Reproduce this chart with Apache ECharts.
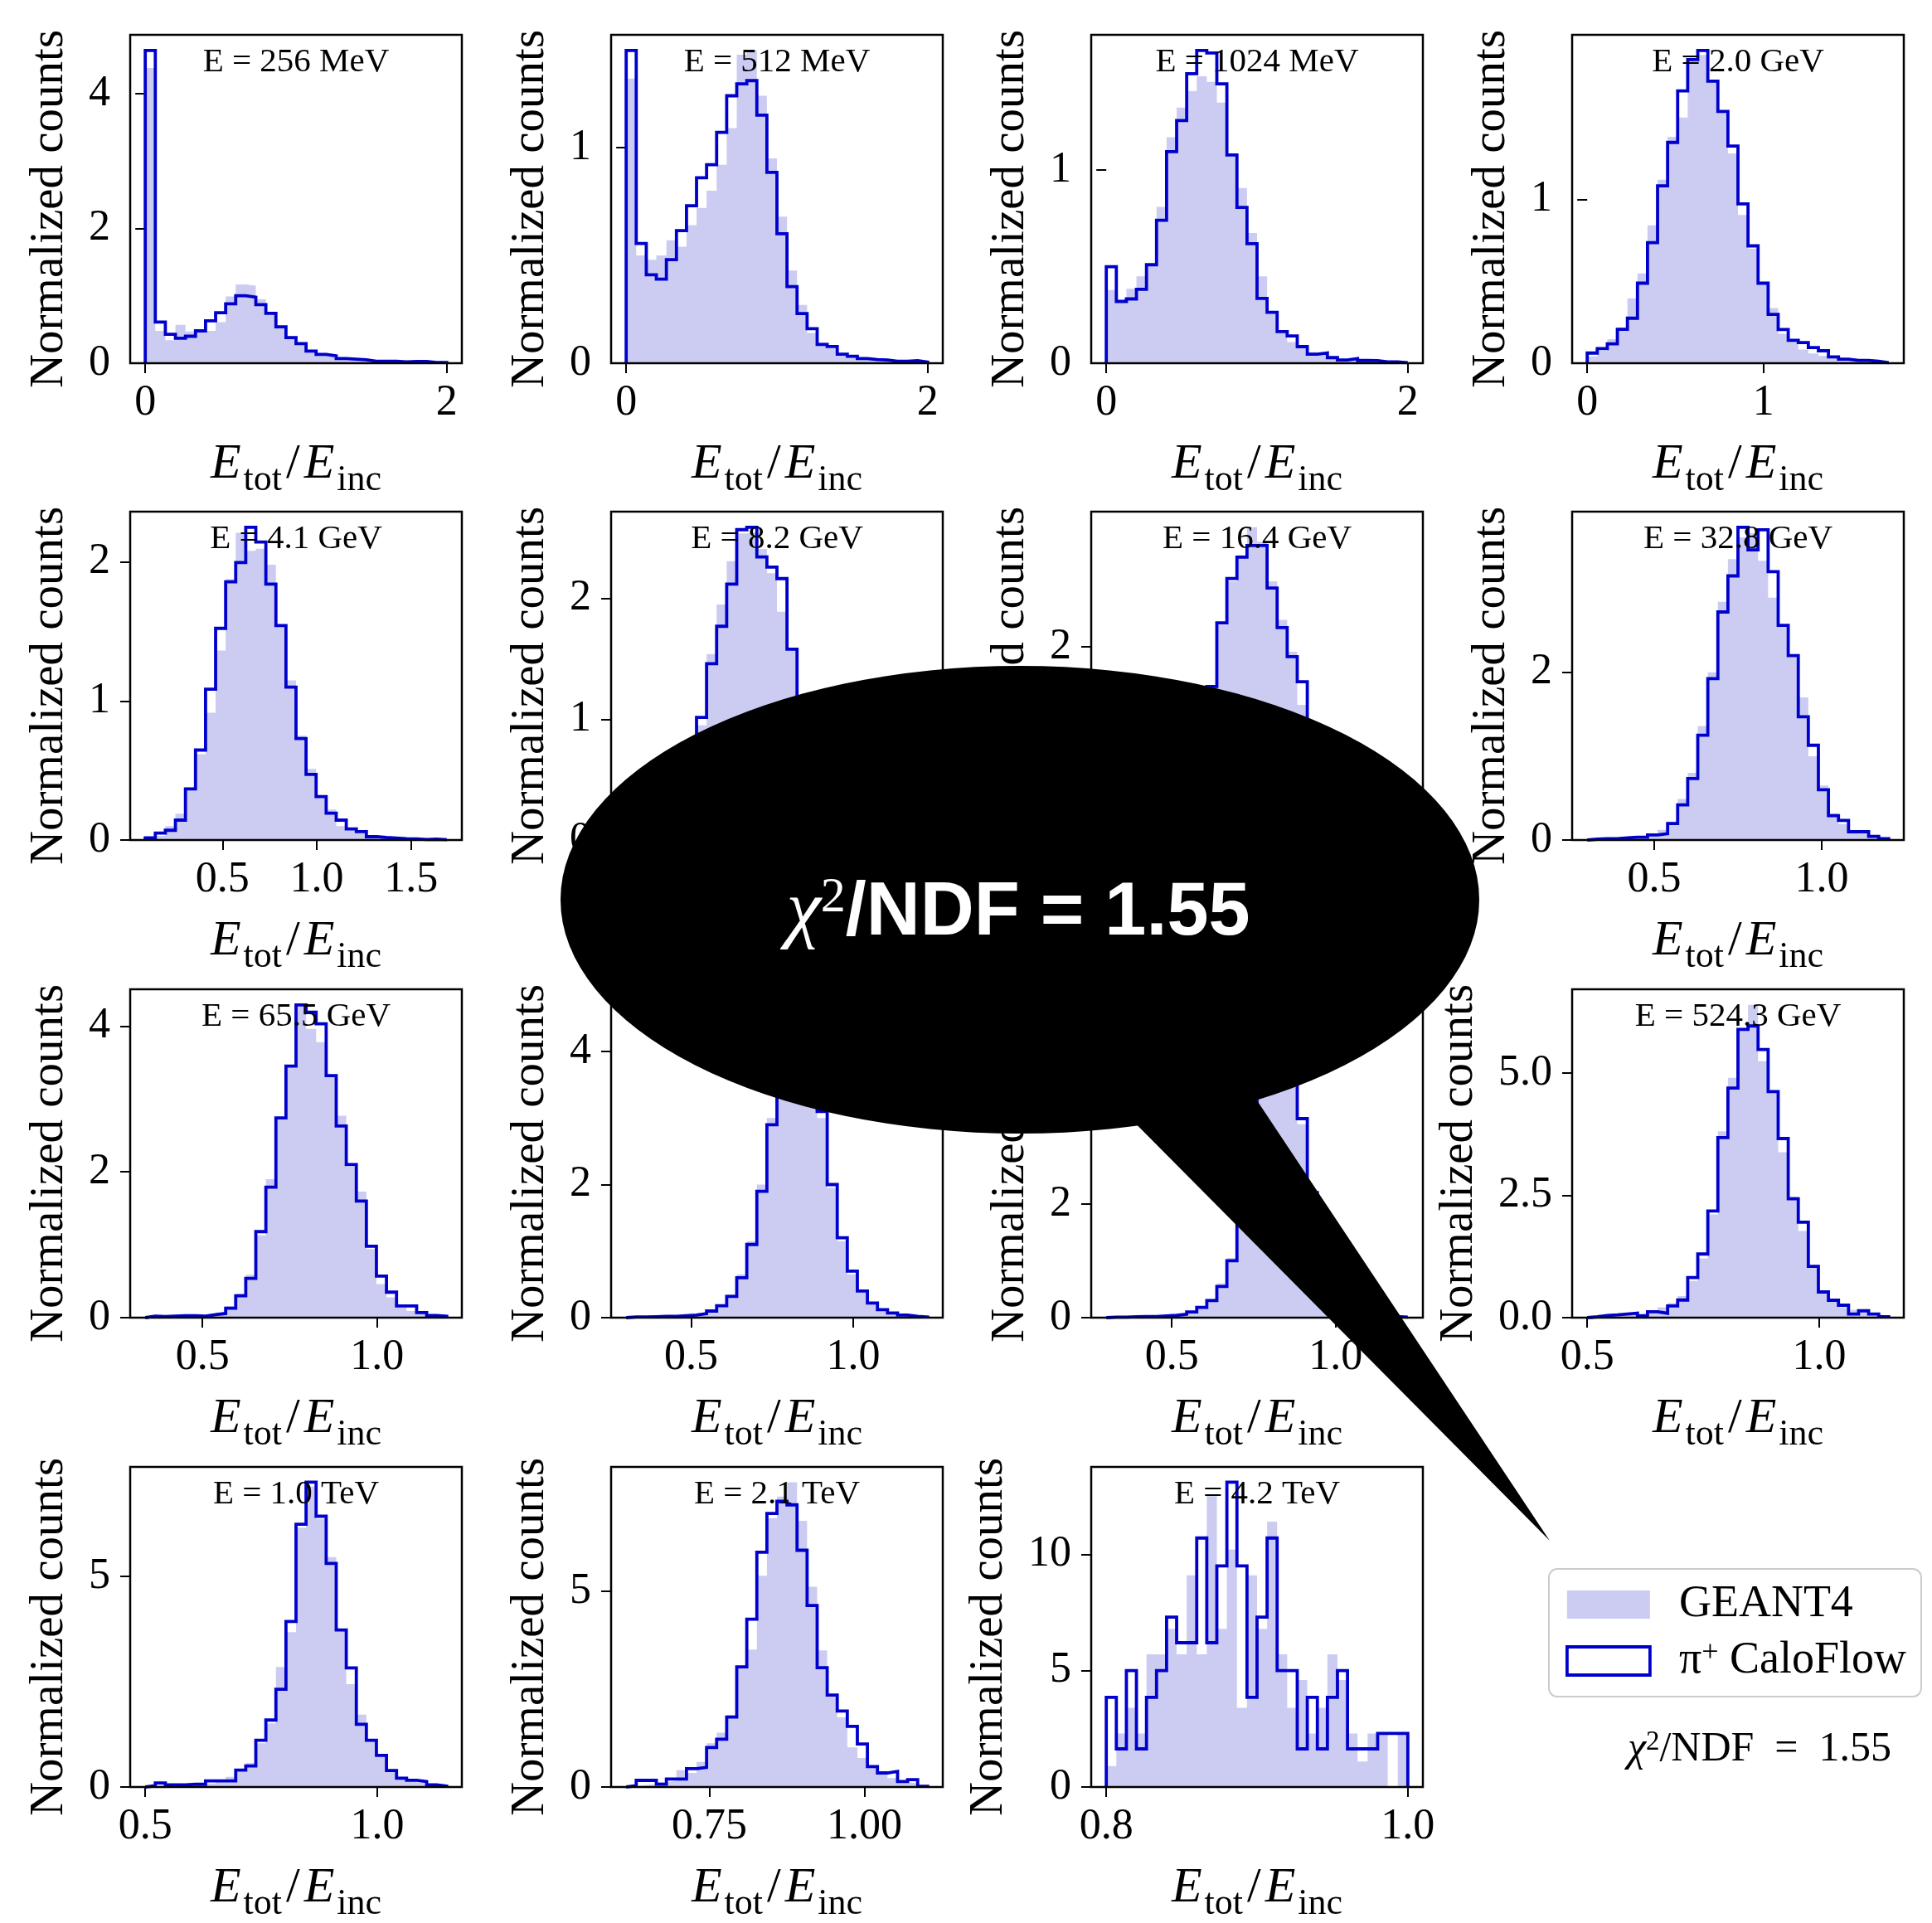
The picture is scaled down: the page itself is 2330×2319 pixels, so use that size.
<!DOCTYPE html>
<html>
<head>
<meta charset="utf-8">
<script src="https://cdn.jsdelivr.net/npm/echarts@6/dist/echarts.min.js"></script>
<style>
  html, body { margin: 0; padding: 0; background: #fff; }
  #chart { width: 2330px; height: 2319px; }
</style>
</head>
<body>
<div id="chart"></div>
<script>
// ---- data: one panel per incident energy, 30 bins each ----
const titles = ['E = 256 MeV', 'E = 512 MeV', 'E = 1024 MeV', 'E = 2.0 GeV',
  'E = 4.1 GeV', 'E = 8.2 GeV', 'E = 16.4 GeV', 'E = 32.8 GeV',
  'E = 65.5 GeV', 'E = 131.1 GeV', 'E = 262.1 GeV', 'E = 524.3 GeV',
  'E = 1.0 TeV', 'E = 2.1 TeV', 'E = 4.2 TeV'];

// histogram range [low edge, high edge] of E_tot/E_inc per panel
const binRanges = [[0, 2.0], [0, 2.0], [0, 2.0], [0, 1.71],
  [0.09, 1.69], [0.12, 1.62], [0.3, 1.2], [0.3, 1.2],
  [0.336, 1.2], [0.3, 1.23], [0.3, 1.22], [0.5, 1.15],
  [0.5, 1.15], [0.616, 1.102], [0.8, 1.0]];

const xTickValues = [[0, 2], [0, 2], [0, 2], [0, 1], [0.5, 1.0, 1.5], [0.5, 1.0, 1.5],
  [0.5, 1.0], [0.5, 1.0], [0.5, 1.0], [0.5, 1.0], [0.5, 1.0], [0.5, 1.0],
  [0.5, 1.0], [0.75, 1.0], [0.8, 1.0]];
const xTickLabels = [['0', '2'], ['0', '2'], ['0', '2'], ['0', '1'], ['0.5', '1.0', '1.5'], ['0.5', '1.0', '1.5'],
  ['0.5', '1.0'], ['0.5', '1.0'], ['0.5', '1.0'], ['0.5', '1.0'], ['0.5', '1.0'], ['0.5', '1.0'],
  ['0.5', '1.0'], ['0.75', '1.00'], ['0.8', '1.0']];
const yTickValues = [[0, 2, 4], [0, 1], [0, 1], [0, 1], [0, 1, 2], [0, 1, 2],
  [0, 2], [0, 2], [0, 2, 4], [0, 2, 4], [0, 2, 4], [0, 2.5, 5],
  [0, 5], [0, 5], [0, 5, 10]];
const yTickLabels = [['0', '2', '4'], ['0', '1'], ['0', '1'], ['0', '1'], ['0', '1', '2'], ['0', '1', '2'],
  ['0', '2'], ['0', '2'], ['0', '2', '4'], ['0', '2', '4'], ['0', '2', '4'], ['0.0', '2.5', '5.0'],
  ['0', '5'], ['0', '5'], ['0', '5', '10']];

// GEANT4 reference (filled) and CaloFlow (step) normalized counts
const g4_256MeV = [4.38, 0.48, 0.34, 0.57, 0.47, 0.45, 0.48, 0.61, 0.99, 1.17, 1.15, 0.95, 0.72, 0.55, 0.37, 0.27, 0.16, 0.12, 0.10, 0.07, 0.05, 0.045, 0.04, 0.03, 0.03, 0.02, 0.02, 0.015, 0.01, 0.01];
const cf_256MeV = [4.64, 0.61, 0.43, 0.37, 0.40, 0.48, 0.63, 0.75, 0.88, 1.00, 0.98, 0.87, 0.74, 0.54, 0.38, 0.29, 0.18, 0.13, 0.11, 0.07, 0.06, 0.05, 0.03, 0.03, 0.03, 0.02, 0.025, 0.025, 0.01, 0.01];

const g4_512MeV = [1.32, 0.50, 0.48, 0.50, 0.57, 0.54, 0.64, 0.72, 0.80, 0.92, 1.09, 1.43, 1.45, 1.24, 0.95, 0.68, 0.43, 0.27, 0.14, 0.096, 0.07, 0.047, 0.032, 0.024, 0.019, 0.015, 0.013, 0.01, 0.008, 0.006];
const cf_512MeV = [1.45, 0.555, 0.41, 0.39, 0.48, 0.615, 0.73, 0.86, 0.92, 1.07, 1.24, 1.295, 1.31, 1.15, 0.885, 0.60, 0.355, 0.23, 0.16, 0.087, 0.077, 0.042, 0.032, 0.022, 0.017, 0.015, 0.009, 0.009, 0.012, 0.005];

const g4_1024MeV = [0.379, 0.314, 0.386, 0.45, 0.51, 0.81, 1.171, 1.324, 1.41, 1.486, 1.457, 1.35, 1.079, 0.907, 0.674, 0.45, 0.264, 0.164, 0.11, 0.086, 0.057, 0.043, 0.033, 0.021, 0.019, 0.014, 0.011, 0.009, 0.007, 0.004];
const cf_1024MeV = [0.50, 0.32, 0.333, 0.383, 0.51, 0.74, 1.096, 1.257, 1.50, 1.62, 1.607, 1.447, 1.079, 0.807, 0.619, 0.336, 0.264, 0.164, 0.141, 0.086, 0.047, 0.053, 0.029, 0.017, 0.024, 0.014, 0.013, 0.007, 0.007, 0.003];

const g4_2GeV = [0.042, 0.076, 0.147, 0.219, 0.396, 0.548, 0.843, 1.121, 1.383, 1.501, 1.863, 1.884, 1.728, 1.543, 1.282, 0.906, 0.70, 0.481, 0.337, 0.18, 0.135, 0.084, 0.059, 0.046, 0.034, 0.025, 0.019, 0.015, 0.01, 0.007];
const cf_2GeV = [0.062, 0.089, 0.118, 0.207, 0.275, 0.489, 0.737, 1.084, 1.349, 1.664, 1.855, 1.911, 1.723, 1.538, 1.327, 0.973, 0.717, 0.489, 0.298, 0.206, 0.14, 0.126, 0.096, 0.076, 0.039, 0.025, 0.017, 0.017, 0.012, 0.003];

const g4_4GeV = [0.01, 0.03, 0.10, 0.189, 0.378, 0.617, 0.915, 1.363, 1.877, 2.209, 2.08, 2.095, 1.98, 1.542, 1.148, 0.75, 0.512, 0.312, 0.219, 0.10, 0.07, 0.05, 0.034, 0.02, 0.014, 0.012, 0.01, 0.006, 0.008, 0.004];
const cf_4GeV = [0.016, 0.05, 0.07, 0.143, 0.368, 0.647, 1.085, 1.522, 1.857, 1.996, 2.249, 2.143, 1.841, 1.542, 1.10, 0.73, 0.472, 0.312, 0.193, 0.143, 0.08, 0.06, 0.024, 0.018, 0.014, 0.01, 0.008, 0.004, 0.006, 0.002];

const g4_8GeV = [0.005, 0.01, 0.02, 0.05, 0.10, 0.22, 0.52, 0.95, 1.54, 1.95, 2.31, 2.54, 2.55, 2.41, 2.21, 1.89, 1.58, 1.10, 0.66, 0.37, 0.21, 0.12, 0.075, 0.05, 0.032, 0.02, 0.015, 0.01, 0.007, 0.005];
const cf_8GeV = [0.005, 0.01, 0.02, 0.04, 0.09, 0.20, 0.50, 1.015, 1.46, 1.77, 2.12, 2.57, 2.59, 2.345, 2.26, 2.165, 1.58, 1.05, 0.62, 0.35, 0.20, 0.12, 0.07, 0.045, 0.03, 0.02, 0.014, 0.01, 0.006, 0.004];

const g4_16GeV = [0.005, 0.01, 0.015, 0.025, 0.035, 0.06, 0.11, 0.22, 0.50, 1.00, 1.60, 2.23, 2.68, 2.95, 3.24, 3.09, 2.68, 2.28, 1.95, 1.40, 1.05, 0.68, 0.40, 0.23, 0.13, 0.075, 0.045, 0.025, 0.015, 0.008];
const cf_16GeV = [0.005, 0.01, 0.015, 0.02, 0.03, 0.05, 0.10, 0.20, 0.45, 0.95, 1.59, 2.25, 2.71, 2.93, 3.05, 3.05, 2.61, 2.20, 1.90, 1.64, 1.10, 0.70, 0.40, 0.22, 0.12, 0.07, 0.04, 0.025, 0.015, 0.008];

const g4_33GeV = [0.007, 0.01, 0.013, 0.02, 0.026, 0.043, 0.06, 0.12, 0.22, 0.49, 0.80, 1.36, 2.0, 2.84, 3.35, 3.61, 3.66, 3.33, 2.89, 2.56, 2.18, 1.70, 1.0, 0.65, 0.32, 0.19, 0.11, 0.076, 0.043, 0.026];
const cf_33GeV = [0.01, 0.016, 0.016, 0.026, 0.033, 0.033, 0.06, 0.076, 0.197, 0.42, 0.734, 1.25, 1.924, 2.72, 3.15, 3.73, 3.46, 3.70, 3.20, 2.56, 2.20, 1.47, 1.13, 0.60, 0.29, 0.234, 0.099, 0.099, 0.043, 0.016];

const g4_66GeV = [0.015, 0.015, 0.02, 0.02, 0.025, 0.03, 0.045, 0.07, 0.16, 0.33, 0.59, 1.13, 1.90, 2.75, 3.44, 4.27, 3.96, 3.78, 3.32, 2.77, 2.07, 1.73, 0.94, 0.46, 0.28, 0.145, 0.09, 0.057, 0.03, 0.02];
const cf_66GeV = [0.02, 0.015, 0.02, 0.027, 0.027, 0.02, 0.04, 0.057, 0.13, 0.30, 0.54, 1.18, 1.79, 2.74, 3.45, 4.29, 4.19, 4.03, 3.32, 2.63, 2.10, 1.60, 0.98, 0.57, 0.35, 0.16, 0.16, 0.07, 0.03, 0.02];

const g4_131GeV = [0.01, 0.012, 0.015, 0.02, 0.025, 0.03, 0.045, 0.07, 0.12, 0.20, 0.35, 0.65, 1.15, 2.0, 3.0, 4.0, 4.68, 4.55, 3.95, 3.0, 1.95, 1.15, 0.65, 0.38, 0.20, 0.11, 0.06, 0.035, 0.02, 0.01];
const cf_131GeV = [0.01, 0.01, 0.015, 0.02, 0.02, 0.03, 0.04, 0.06, 0.10, 0.18, 0.32, 0.60, 1.10, 1.90, 2.90, 3.90, 4.60, 4.70, 4.10, 3.10, 2.0, 1.20, 0.70, 0.40, 0.22, 0.12, 0.07, 0.04, 0.02, 0.01];

const g4_262GeV = [0.01, 0.01, 0.015, 0.02, 0.025, 0.03, 0.05, 0.07, 0.12, 0.20, 0.33, 0.60, 1.05, 1.90, 3.0, 4.30, 5.35, 5.30, 4.60, 3.40, 2.15, 1.25, 0.68, 0.38, 0.20, 0.11, 0.06, 0.035, 0.02, 0.01];
const cf_262GeV = [0.01, 0.01, 0.015, 0.02, 0.02, 0.03, 0.04, 0.06, 0.10, 0.18, 0.30, 0.55, 1.0, 1.80, 2.90, 4.10, 5.20, 5.50, 4.80, 3.50, 2.20, 1.30, 0.70, 0.40, 0.22, 0.12, 0.07, 0.04, 0.02, 0.01];

const g4_524GeV = [0.017, 0.03, 0.04, 0.056, 0.073, 0.10, 0.13, 0.21, 0.30, 0.44, 0.75, 1.21, 2.11, 3.81, 4.90, 5.89, 6.39, 5.24, 4.62, 3.38, 2.47, 1.77, 1.03, 0.55, 0.356, 0.21, 0.16, 0.10, 0.073, 0.04];
const cf_524GeV = [0.017, 0.045, 0.056, 0.073, 0.09, 0.034, 0.12, 0.09, 0.24, 0.36, 0.82, 1.30, 2.18, 3.68, 4.69, 5.89, 5.96, 5.48, 4.62, 3.66, 2.43, 1.95, 1.05, 0.525, 0.356, 0.254, 0.073, 0.14, 0.073, 0.017];

const g4_1TeV = [0.025, 0.05, 0.04, 0.045, 0.064, 0.083, 0.083, 0.13, 0.24, 0.37, 0.57, 1.04, 1.51, 2.85, 3.68, 6.16, 7.14, 6.36, 5.46, 3.71, 2.44, 1.72, 1.13, 0.78, 0.43, 0.24, 0.18, 0.11, 0.064, 0.04];
const cf_1TeV = [0.03, 0.095, 0.05, 0.05, 0.064, 0.064, 0.146, 0.146, 0.146, 0.40, 0.50, 1.11, 1.59, 2.32, 3.93, 6.24, 7.24, 6.43, 5.31, 3.73, 2.83, 1.49, 1.11, 0.75, 0.39, 0.21, 0.16, 0.13, 0.05, 0.02];

const g4_2TeV = [0.02, 0.055, 0.07, 0.12, 0.16, 0.43, 0.36, 0.64, 1.12, 1.39, 1.84, 3.10, 3.51, 5.40, 6.87, 7.42, 7.79, 6.80, 5.12, 3.49, 2.32, 1.78, 1.01, 0.74, 0.50, 0.33, 0.23, 0.12, 0.09, 0.04];
const cf_2TeV = [0.034, 0.17, 0.17, 0.07, 0.205, 0.205, 0.47, 0.50, 1.01, 1.22, 1.79, 3.07, 4.29, 6.0, 6.99, 7.30, 7.21, 6.05, 4.64, 3.05, 2.35, 1.94, 1.55, 1.10, 0.52, 0.36, 0.40, 0.14, 0.19, 0.02];

const g4_4TeV = [0.9, 2.3, 3.4, 2.3, 5.7, 5.7, 6.8, 5.7, 9.1, 5.7, 12.5, 6.8, 10.2, 3.4, 9.1, 6.8, 11.4, 5.7, 3.4, 4.6, 2.3, 3.4, 5.7, 4.6, 2.3, 1.1, 2.3, 2.3, 0.0, 2.3];
const cf_4TeV = [3.85, 1.64, 5.0, 1.64, 3.85, 5.0, 7.3, 6.2, 6.2, 10.7, 6.2, 9.5, 13.1, 9.5, 3.85, 7.3, 10.7, 5.0, 5.0, 1.64, 3.85, 1.64, 3.85, 5.0, 1.64, 1.64, 1.64, 2.3, 2.3, 2.3];

const geant4 = [g4_256MeV, g4_512MeV, g4_1024MeV, g4_2GeV, g4_4GeV, g4_8GeV, g4_16GeV, g4_33GeV,
  g4_66GeV, g4_131GeV, g4_262GeV, g4_524GeV, g4_1TeV, g4_2TeV, g4_4TeV];
const caloflow = [cf_256MeV, cf_512MeV, cf_1024MeV, cf_2GeV, cf_4GeV, cf_8GeV, cf_16GeV, cf_33GeV,
  cf_66GeV, cf_131GeV, cf_262GeV, cf_524GeV, cf_1TeV, cf_2TeV, cf_4TeV];

// ---- layout & style ----
const colLeft = [157, 737, 1316, 1896];
const rowTop = [42, 617, 1193, 1769];
const PW = 400, PH = 396;
const SERIF = "'Liberation Serif', 'DejaVu Serif', serif";
const SANS = "'Liberation Sans', Arial, sans-serif";
const TICK_FS = 52;
const FILL = '#ccccf2';
const LINE = '#0000cc';
const NAME_G4 = 'GEANT4';
const NAME_CF = 'CaloFlow';

// outline of a histogram: up the first edge, across each bin, down the last edge
function stepPoints(lo, hi, vals) {
  const n = vals.length, w = (hi - lo) / n, pts = [[lo, 0]];
  vals.forEach((v, i) => { pts.push([lo + i * w, v]); pts.push([lo + (i + 1) * w, v]); });
  pts.push([hi, 0]);
  return pts;
}
function labelWidth(s) {
  let w = 0;
  for (const ch of s) w += (ch === '.' ? 0.26 : 0.5);
  return w * TICK_FS;
}
function lookup(values, labels) {
  return v => {
    const i = values.findIndex(t => Math.abs(t - v) < 1e-9);
    return i >= 0 ? labels[i] : '';
  };
}

const grids = [], xAxes = [], yAxes = [], series = [], graphics = [];

for (let p = 0; p < titles.length; p++) {
  const r = Math.floor(p / 4), c = p % 4;
  const [lo, hi] = binRanges[p];
  const pad = (hi - lo) * 0.05;
  const ymax = Math.max(...geant4[p], ...caloflow[p]) * 1.05;
  const widest = Math.max(...yTickLabels[p].map(labelWidth));

  grids.push({
    left: colLeft[c], top: rowTop[r], width: PW, height: PH,
    show: true, borderColor: '#000', borderWidth: 2.5, backgroundColor: 'transparent', z: 3
  });

  xAxes.push({
    type: 'value', gridIndex: p, min: lo - pad, max: hi + pad,
    axisLine: { show: false }, splitLine: { show: false },
    axisTick: { show: true, inside: false, length: 12, lineStyle: { color: '#000', width: 2 }, customValues: xTickValues[p] },
    axisLabel: { customValues: xTickValues[p], formatter: lookup(xTickValues[p], xTickLabels[p]),
      color: '#000', fontFamily: SERIF, fontSize: TICK_FS, margin: 22 },
    name: '{i|E}{s|tot}{n|/}{i|E}{s|inc}', nameLocation: 'middle', nameGap: 92,
    nameTextStyle: {
      color: '#000',
      rich: {
        i: { fontFamily: SERIF, fontStyle: 'italic', fontSize: 60, color: '#000', verticalAlign: 'bottom', padding: [0, 3, 11, 0] },
        n: { fontFamily: SERIF, fontSize: 60, color: '#000', verticalAlign: 'bottom', padding: [0, 5, 11, 5] },
        s: { fontFamily: SERIF, fontSize: 44, color: '#000', verticalAlign: 'bottom' }
      }
    }
  });

  yAxes.push({
    type: 'value', gridIndex: p, min: 0, max: ymax,
    axisLine: { show: false }, splitLine: { show: false },
    axisTick: { show: true, inside: false, length: 12, lineStyle: { color: '#000', width: 2 }, customValues: yTickValues[p] },
    axisLabel: { customValues: yTickValues[p], formatter: lookup(yTickValues[p], yTickLabels[p]),
      color: '#000', fontFamily: SERIF, fontSize: TICK_FS, margin: 24 },
    name: 'Normalized counts', nameLocation: 'middle', nameRotate: 90,
    nameGap: 30 + widest + 12,
    nameTextStyle: { color: '#000', fontFamily: SERIF, fontSize: 57, padding: [0, 24, 0, 0] }
  });

  series.push({
    type: 'line', name: NAME_G4, xAxisIndex: p, yAxisIndex: p,
    data: stepPoints(lo, hi, geant4[p]),
    symbol: 'none', silent: true, z: 1,
    lineStyle: { width: 0, color: FILL }, itemStyle: { color: FILL },
    areaStyle: { color: FILL, opacity: 1 }
  });
  series.push({
    type: 'line', name: NAME_CF, xAxisIndex: p, yAxisIndex: p,
    data: stepPoints(lo, hi, caloflow[p]),
    symbol: 'none', silent: true, z: 2,
    lineStyle: { width: 3.8, color: LINE, join: 'miter' }, itemStyle: { color: LINE }
  });

  graphics.push({
    type: 'text', z: 10,
    x: colLeft[c] + PW / 2, y: rowTop[r] + 33,
    style: { text: titles[p], align: 'center', verticalAlign: 'middle', fill: '#000', font: `41px ${SERIF}` }
  });
}

// goodness-of-fit note below the legend
graphics.push({
  type: 'text', z: 10, x: 2122, y: 2110,
  style: {
    text: '{c|χ}{p|2}{t|/NDF  =  1.55}', align: 'center', verticalAlign: 'middle',
    rich: {
      c: { fontFamily: SERIF, fontStyle: 'italic', fontSize: 50, fill: '#000', verticalAlign: 'bottom' },
      p: { fontFamily: SERIF, fontSize: 33, fill: '#000', verticalAlign: 'top' },
      t: { fontFamily: SERIF, fontSize: 50, fill: '#000', verticalAlign: 'bottom' }
    }
  }
});

// speech bubble callout
const bubble = { cx: 1230, cy: 1085, rx: 554, ry: 282 };
graphics.push({
  type: 'circle', z: 100, x: bubble.cx, y: bubble.cy, scaleY: bubble.ry / bubble.rx,
  shape: { cx: 0, cy: 0, r: bubble.rx }, style: { fill: '#000' }
});
graphics.push({
  type: 'polygon', z: 100,
  shape: { points: [[1315, 1300], [1486, 1282], [1869, 1858]] }, style: { fill: '#000' }
});
graphics.push({
  type: 'text', z: 110, x: 1228, y: 1100,
  style: {
    text: '{c|χ}{p|2}{t|/NDF = 1.55}', align: 'center', verticalAlign: 'middle',
    rich: {
      c: { fontFamily: SERIF, fontStyle: 'italic', fontSize: 94, fill: '#fff', verticalAlign: 'bottom' },
      p: { fontFamily: SERIF, fontSize: 60, fill: '#fff', verticalAlign: 'top' },
      t: { fontFamily: SANS, fontWeight: 'bold', fontSize: 90, fill: '#fff', verticalAlign: 'bottom' }
    }
  }
});

const chart = echarts.init(document.getElementById('chart'), null, { renderer: 'canvas' });
chart.setOption({
  backgroundColor: '#fff',
  animation: false,
  grid: grids,
  xAxis: xAxes,
  yAxis: yAxes,
  series: series,
  legend: {
    orient: 'vertical', left: 1868, top: 1892, selectedMode: false,
    backgroundColor: '#fff', borderColor: '#cccccc', borderWidth: 2, borderRadius: 10,
    padding: [16, 18, 16, 20], itemGap: 14, itemWidth: 100, itemHeight: 34,
    data: [
      { name: NAME_G4, icon: 'rect', itemStyle: { color: FILL, borderWidth: 0 } },
      { name: NAME_CF, icon: 'rect', itemStyle: { color: '#fff', borderColor: LINE, borderWidth: 3.8 } }
    ],
    formatter: name => name === NAME_CF ? '{a|π}{s|+}{a| CaloFlow}' : '{a|' + name + '}',
    textStyle: {
      color: '#000', fontFamily: SERIF, fontSize: 54, padding: [0, 0, 0, 30],
      rich: {
        a: { fontFamily: SERIF, fontSize: 54, color: '#000', verticalAlign: 'bottom', lineHeight: 54 },
        s: { fontFamily: SERIF, fontSize: 36, color: '#000', verticalAlign: 'top', lineHeight: 54 }
      }
    }
  },
  graphic: graphics
});
</script>
</body>
</html>
